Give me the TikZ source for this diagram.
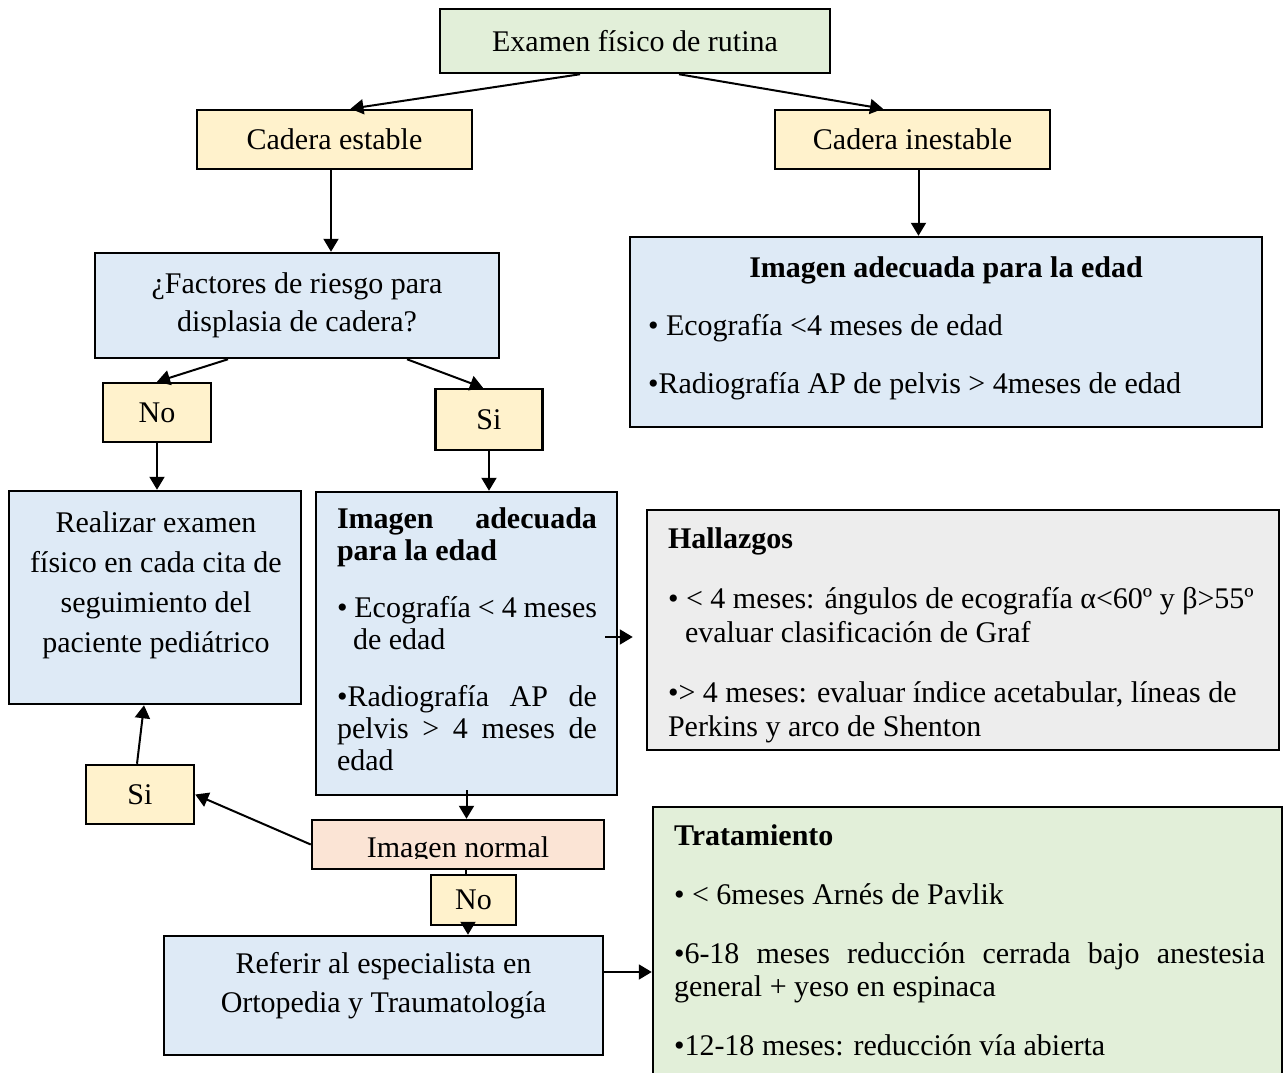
\documentclass[tikz,border=0pt]{standalone}
\usepackage{fontspec}
\setmainfont{Liberation Serif}
\usetikzlibrary{arrows.meta}

\definecolor{verde}{HTML}{E2EFD9}
\definecolor{amarillo}{HTML}{FFF2CC}
\definecolor{azul}{HTML}{DEEAF6}
\definecolor{gris}{HTML}{EDEDED}
\definecolor{rosa}{HTML}{FBE4D5}

\tikzset{
  caja/.style={draw, line width=1.25pt, inner sep=0pt, font=\fontsize{15}{20}\selectfont},
  texto/.style={inner sep=0pt, anchor=base, font=\fontsize{15}{20}\selectfont},
  flecha/.style={-{Triangle[length=6.5pt,width=7.5pt]}, line width=1pt},
}

\begin{document}
\begin{tikzpicture}[x=0.5pt,y=-0.5pt]
    \useasboundingbox (0,0) rectangle (1284,1072);

    % Examen y caderas
    \node[caja, fill=verde, minimum width=195pt, minimum height=32pt] (examen) at (635,41) {Examen físico de rutina};
    \node[caja, fill=amarillo, minimum width=137.5pt, minimum height=29.5pt] (estable) at (334.5,139.5) {Cadera estable};
    \node[caja, fill=amarillo, minimum width=137.5pt, minimum height=29.5pt] (inestable) at (912.5,139.5) {Cadera inestable};

    % Factores de riesgo
    \node[caja, fill=azul, minimum width=202pt, minimum height=52.5pt] (factores) at (297,305.5) {};
    \node[texto, font=\fontsize{15}{19}\selectfont] (factorestxt) at (297,293)
        {\parbox[t]{190pt}{\centering ¿Factores de riesgo para\\displasia de cadera?}};

    % Imagen (cadera inestable)
    \node[caja, fill=azul, minimum width=316pt, minimum height=95pt] (imgder) at (946,332) {};
    \node[texto] (imgdertxt) at (946,277)
        {\parbox[t]{298pt}{\raggedright\hfill\textbf{Imagen adecuada para la edad}\hfill\null\\[9pt]
         • Ecografía <4 meses de edad\\[9pt]
         •Radiografía AP de pelvis > 4meses de edad}};

    \node[caja, fill=amarillo, minimum width=54pt, minimum height=29.5pt] (no1) at (157,412.5) {No};
    \node[caja, fill=amarillo, minimum width=53.5pt, minimum height=30.5pt] (si1) at (489,419.5) {Si};

    % Seguimiento
    \node[caja, fill=azul, minimum width=146pt, minimum height=106.5pt] (realizar) at (155,597.5) {};
    \node[texto] (realizartxt) at (156,532)
        {\parbox[t]{140pt}{\centering Realizar examen\\físico en cada cita de\\seguimiento del\\paciente pediátrico}};

    % Imagen (factores de riesgo)
    \node[caja, fill=azul, minimum width=150.5pt, minimum height=151.5pt] (imgmed) at (466.5,643.5) {};
    \node[texto, font=\fontsize{15}{16}\selectfont] (imgmedtxt) at (467,528)
        {\parbox[t]{130pt}{\raggedright\textbf{Imagen \hfill adecuada}\\
         \textbf{para la edad}\\[12.5pt]
         • Ecografía \hfill < \hfill 4 \hfill meses\\
         \hspace*{8pt}de edad\\[12.5pt]
         •Radiografía \hfill AP \hfill de\\
         pelvis \hfill > \hfill 4 \hfill meses \hfill de\\
         edad}};

    % Hallazgos
    \node[caja, fill=gris, minimum width=316pt, minimum height=120pt] (hallazgos) at (963,630) {};
    \node[texto, font=\fontsize{15}{17}\selectfont] (hallazgostxt) at (966,548)
        {\parbox[t]{298pt}{\raggedright\textbf{Hallazgos}\\[13pt]
         • < 4 meses: ángulos de ecografía α<60º y β>55º\\
         \hspace*{8.5pt}evaluar clasificación de Graf\\[13pt]
         •> 4 meses: evaluar índice acetabular, líneas de\\
         Perkins y arco de Shenton}};

    \node[caja, fill=amarillo, minimum width=54pt, minimum height=29.5pt] (si2) at (140,794.5) {Si};

    % Imagen normal
    \node[caja, fill=rosa, minimum width=146pt, minimum height=24.5pt] (imgnormal) at (458,844.5) {};
    \begin{scope}
        \clip (312,820) rectangle (604,858);
        \node[texto] (imgnormaltxt) at (458,857) {Imagen normal};
    \end{scope}

    \node[caja, fill=amarillo, minimum width=42.5pt, minimum height=25pt] (no2) at (473.5,900) {No};

    % Referir y tratamiento
    \node[caja, fill=azul, minimum width=219.5pt, minimum height=59.5pt] (referir) at (383.5,995.5) {};
    \node[texto, font=\fontsize{15}{19.5}\selectfont] (referirtxt) at (383.5,973)
        {\parbox[t]{215pt}{\centering Referir al especialista en\\Ortopedia y Traumatología}};

    \node[caja, fill=verde, minimum width=314.5pt, minimum height=146.5pt] (tratamiento) at (967.5,953.5) {};
    \node[texto, font=\fontsize{15}{16.5}\selectfont] (tratamientotxt) at (969.5,845)
        {\parbox[t]{295.5pt}{\raggedright\textbf{Tratamiento}\\[13pt]
         • < 6meses Arnés de Pavlik\\[13pt]
         •6-18 \hfill meses \hfill reducción \hfill cerrada \hfill bajo \hfill anestesia\\
         general + yeso en espinaca\\[13pt]
         •12-18 meses: reducción vía abierta}};

    % Flechas
    \draw[flecha] ([xshift=-27.5pt]examen.south) -- ([xshift=8pt]estable.north);
    \draw[flecha] ([xshift=22pt]examen.south) -- ([xshift=-14.75pt]inestable.north);
    \draw[flecha] ([xshift=-1.75pt]estable.south) -- ([xshift=-1.75pt]estable.south |- factores.north);
    \draw[flecha] ([xshift=3pt]inestable.south) -- ([xshift=3pt]inestable.south |- imgder.north);
    \draw[flecha] ([xshift=-34.5pt]factores.south) -- (no1.north);
    \draw[flecha] ([xshift=55pt]factores.south) -- ([xshift=-3pt]si1.north);
    \draw[flecha] (no1.south) -- (no1.south |- realizar.north);
    \draw[flecha] (si1.south) -- (si1.south |- imgmed.north);
    \draw[flecha] ([xshift=-6.5pt,yshift=3.25pt]imgmed.east) -- ([xshift=-6.5pt,yshift=3.25pt]imgmed.east -| hallazgos.west);
    \draw[flecha] ([yshift=3pt]imgmed.south) -- (imgmed.south |- imgnormal.north);
    \draw[flecha] (imgnormal.west) -- (si2.east);
    \draw[flecha] ([xshift=-1.5pt]si2.north) -- ([xshift=-5.5pt]realizar.south);
    \draw[line width=1pt] ([xshift=4pt]imgnormal.south) -- ([xshift=4pt]imgnormal.south |- no2.north);
    \draw[flecha] ([xshift=-2.75pt]no2.south) -- ([xshift=-2.75pt]no2.south |- referir.north);
    \draw[flecha] ([yshift=11.75pt]referir.east) -- ([yshift=11.75pt]referir.east -| tratamiento.west);
\end{tikzpicture}
\end{document}
